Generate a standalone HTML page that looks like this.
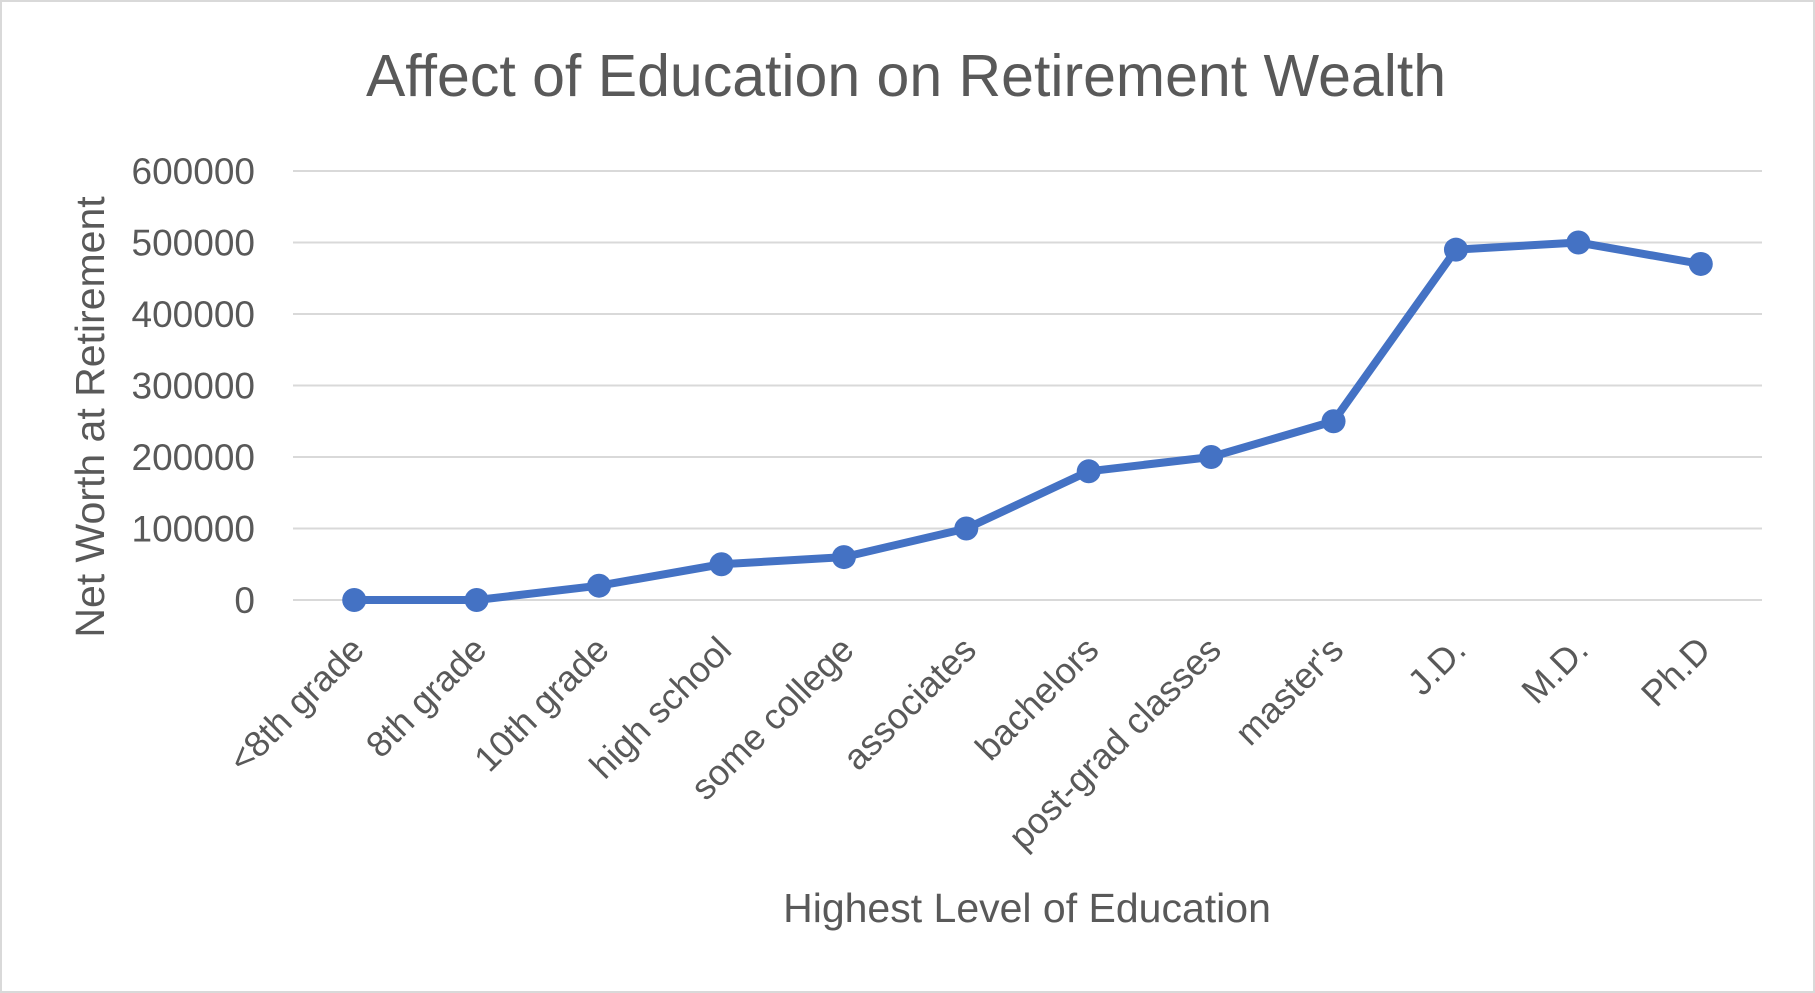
<!DOCTYPE html>
<html><head><meta charset="utf-8"><style>
html,body{margin:0;padding:0;background:#fff;}
svg{display:block;font-family:"Liberation Sans",sans-serif;}
</style></head><body>
<svg id="chart" width="1815" height="993">
<rect x="1" y="1" width="1813" height="991" fill="#fff" stroke="#d9d9d9" stroke-width="2"/>
<text x="906" y="96" text-anchor="middle" font-size="59" fill="#595959">Affect of Education on Retirement Wealth</text>
<text transform="translate(104,417) rotate(-90)" text-anchor="middle" font-size="41" fill="#595959">Net Worth at Retirement</text>
<text x="1027" y="922" text-anchor="middle" font-size="41" fill="#595959">Highest Level of Education</text>
<g id="grid"></g><g id="ylabels"></g><g id="xlabels"></g><g id="series"></g>
</svg>
<script>
const categories=["<8th grade","8th grade","10th grade","high school","some college","associates","bachelors","post-grad classes","master's","J.D.","M.D.","Ph.D"];
const values=[0,0,20000,50000,60000,100000,180000,200000,250000,490000,500000,470000];
const yTicks=[0,100000,200000,300000,400000,500000,600000];
const NS="http://www.w3.org/2000/svg";
const plotLeft=293,plotRight=1762,plotTop=171,plotBottom=600,yMax=600000;
const step=(plotRight-plotLeft)/categories.length;
function xPos(i){return plotLeft+step*(i+0.5);}
function yPos(v){return plotBottom-(v/yMax)*(plotBottom-plotTop);}
function mk(t,a,p){const e=document.createElementNS(NS,t);for(const k in a)e.setAttribute(k,a[k]);p.appendChild(e);return e;}
const grid=document.getElementById('grid'),yl=document.getElementById('ylabels'),xl=document.getElementById('xlabels'),ser=document.getElementById('series');
yTicks.forEach(t=>{
 const l=mk('line',{x1:plotLeft,x2:plotRight,y1:yPos(t),y2:yPos(t),stroke:'#d9d9d9','stroke-width':2},grid);
 
 
 const tx=mk('text',{x:255,y:yPos(t)+13,'text-anchor':'end','font-size':37,fill:'#595959'},yl);
 tx.textContent=t;
 
 
});
categories.forEach((c,i)=>{
 const tx=mk('text',{transform:`translate(${xPos(i)+12},${652}) rotate(-45)`,'text-anchor':'end','font-size':36,fill:'#595959'},xl);
 tx.textContent=c;
 
 
});
const pl=mk('polyline',{points:values.map((v,i)=>xPos(i)+','+yPos(v)).join(' '),fill:'none',stroke:'#4472c4','stroke-width':8,'stroke-linejoin':'round'},ser);


values.forEach((v,i)=>{
 const c=mk('circle',{cx:xPos(i),cy:yPos(v),r:12,fill:'#4472c4'},ser);
 
 
});
</script>
</body></html>
